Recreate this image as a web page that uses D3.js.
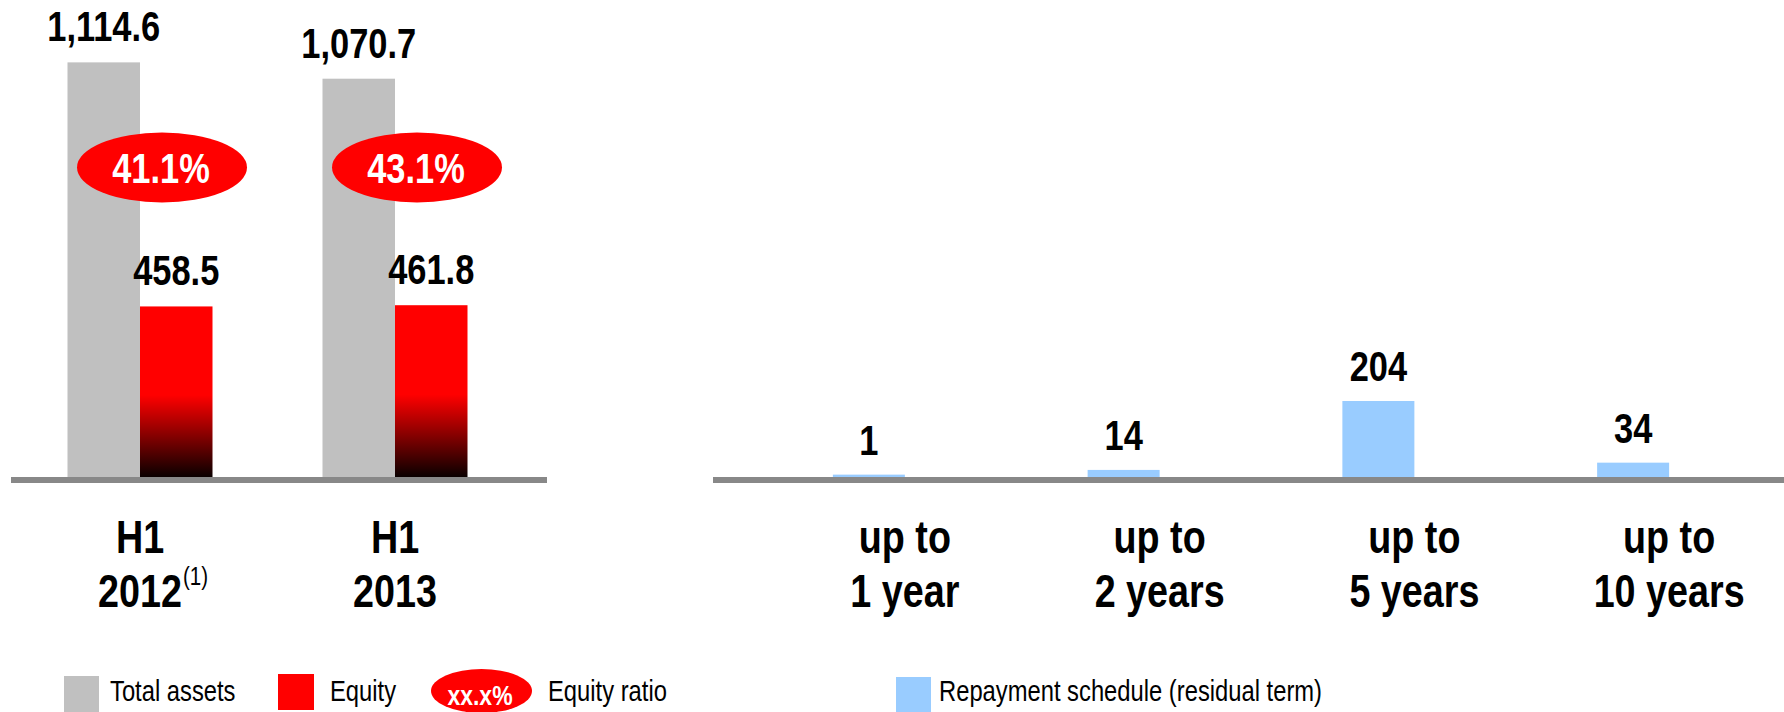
<!DOCTYPE html>
<html>
<head>
<meta charset="utf-8">
<script src="https://cdn.jsdelivr.net/npm/d3@7"></script>
<style>
  html, body { margin: 0; padding: 0; background: #ffffff; }
  svg { display: block; }
  text { font-family: "Liberation Sans", Arial, sans-serif; }
</style>
</head>
<body>
<svg id="chart" width="1784" height="712"></svg>
<script>
// ---- Balance sheet (EUR m) ----
const periods = ["H1 2012", "H1 2013"];
const periodLine1 = ["H1", "H1"];
const periodLine2 = ["2012", "2013"];
const periodNotes = ["(1)", ""];
const totalAssets = [1114.6, 1070.7];
const equity = [458.5, 461.8];
const equityRatio = ["41.1%", "43.1%"];
const valueLabelsAssets = ["1,114.6", "1,070.7"];
const valueLabelsEquity = ["458.5", "461.8"];

// ---- Repayment schedule (residual term) ----
const terms = ["up to 1 year", "up to 2 years", "up to 5 years", "up to 10 years"];
const termLine1 = ["up to", "up to", "up to", "up to"];
const termLine2 = ["1 year", "2 years", "5 years", "10 years"];
const repayments = [1, 14, 204, 34];

// ---- Legend ----
const legendLeft = ["Total assets", "Equity", "Equity ratio"];
const legendRight = ["Repayment schedule (residual term)"];
const ratioPlaceholder = "xx.x%";

const GRAY = "#c0c0c0", RED = "#ff0000", BLUE = "#99ccff", AXIS = "#888888";
const baseY = 477;
const NARROW = 0.82; // condensed face: horizontal squeeze of the sans

// place a text element at (x, y) with the condensed look
function at(sel, fx, fy) {
  return sel.attr("x", 0).attr("y", 0)
    .attr("transform", (d, i) => {
      const x = typeof fx === "function" ? fx(d, i) : fx;
      const y = typeof fy === "function" ? fy(d, i) : fy;
      return `translate(${x},${y}) scale(${NARROW},1)`;
    });
}

const svg = d3.select("#chart");
const defs = svg.append("defs");
const grad = defs.append("linearGradient")
  .attr("id", "equityFill").attr("x1", 0).attr("y1", 0).attr("x2", 0).attr("y2", 1);
grad.append("stop").attr("offset", "0%").attr("stop-color", RED);
grad.append("stop").attr("offset", "52%").attr("stop-color", RED);
grad.append("stop").attr("offset", "100%").attr("stop-color", "#0a0000");

// ================= Left panel =================
const xL = d3.scaleBand().domain(periods).range([12.5, 522.5]).paddingInner(0).paddingOuter(0);
const xSeries = d3.scaleBand().domain(["assets", "equity"]).range([-72.5, 72.5]);
const yL = d3.scaleLinear().domain([0, 1200]).range([baseY, baseY - 446.4]);
const cL = p => xL(p) + xL.bandwidth() / 2;

const left = svg.append("g");

left.selectAll("rect.assets").data(periods).join("rect")
  .attr("class", "assets")
  .attr("x", p => cL(p) + xSeries("assets"))
  .attr("width", xSeries.bandwidth())
  .attr("y", (p, i) => yL(totalAssets[i]))
  .attr("height", (p, i) => baseY - yL(totalAssets[i]))
  .attr("fill", GRAY);

left.selectAll("rect.equity").data(periods).join("rect")
  .attr("class", "equity")
  .attr("x", p => cL(p) + xSeries("equity"))
  .attr("width", xSeries.bandwidth())
  .attr("y", (p, i) => yL(equity[i]))
  .attr("height", (p, i) => baseY - yL(equity[i]))
  .attr("fill", "url(#equityFill)");

// value labels
at(left.selectAll("text.vAssets").data(periods).join("text"),
   p => cL(p) + xSeries("assets") + xSeries.bandwidth() / 2,
   (p, i) => yL(totalAssets[i]) - 21)
  .attr("text-anchor", "middle").attr("font-weight", "bold").attr("font-size", 42)
  .text((p, i) => valueLabelsAssets[i]);

at(left.selectAll("text.vEquity").data(periods).join("text"),
   p => cL(p) + xSeries("equity") + xSeries.bandwidth() / 2,
   (p, i) => yL(equity[i]) - 21)
  .attr("text-anchor", "middle").attr("font-weight", "bold").attr("font-size", 42)
  .text((p, i) => valueLabelsEquity[i]);

// equity ratio badges
const badge = left.selectAll("g.badge").data(periods).join("g")
  .attr("transform", p => `translate(${cL(p) + 22},167.5)`);
badge.append("ellipse").attr("rx", 85).attr("ry", 35).attr("fill", RED);
at(badge.append("text"), -1, 15)
  .attr("text-anchor", "middle").attr("font-weight", "bold").attr("font-size", 42)
  .attr("fill", "#ffffff")
  .text((p, i) => equityRatio[i]);

// baseline
left.append("rect").attr("x", 11).attr("y", baseY).attr("width", 536).attr("height", 6).attr("fill", AXIS);

// category labels
at(left.selectAll("text.cat1").data(periods).join("text"), cL, 553)
  .attr("text-anchor", "middle").attr("font-weight", "bold").attr("font-size", 46)
  .text((p, i) => periodLine1[i]);
const cat2 = at(left.selectAll("text.cat2").data(periods).join("text"), cL, 607)
  .attr("class", "cat2")
  .attr("text-anchor", "middle").attr("font-weight", "bold").attr("font-size", 46)
  .text((p, i) => periodLine2[i]);
cat2.each(function (p, i) {
  if (!periodNotes[i]) return;
  const w = this.getComputedTextLength() * NARROW;
  at(left.append("text"), cL(p) + w / 2 + 1, 585)
    .attr("font-size", 25)
    .text(periodNotes[i]);
});

// ================= Right panel =================
const xR = d3.scaleBand().domain(terms).range([741.5, 1760.5]).paddingInner(0).paddingOuter(0);
const yR = d3.scaleLinear().domain([0, 204]).range([baseY, baseY - 74]);
const cR = t => xR(t) + xR.bandwidth() / 2;

const right = svg.append("g");

right.selectAll("rect.rep").data(terms).join("rect")
  .attr("x", t => cR(t) - 35)
  .attr("width", 70)
  .attr("y", (t, i) => yR(repayments[i]) - 1)
  .attr("height", (t, i) => baseY - yR(repayments[i]) + 1)
  .attr("fill", BLUE).attr("stroke", BLUE).attr("stroke-width", 2);

at(right.selectAll("text.vRep").data(terms).join("text"),
   cR, (t, i) => yR(repayments[i]) - 22)
  .attr("text-anchor", "middle").attr("font-weight", "bold").attr("font-size", 42)
  .text((t, i) => d3.format(",")(repayments[i]));

right.append("rect").attr("x", 713).attr("y", baseY).attr("width", 1071).attr("height", 6).attr("fill", AXIS);

at(right.selectAll("text.t1").data(terms).join("text"), t => cR(t) + 36, 553)
  .attr("text-anchor", "middle").attr("font-weight", "bold").attr("font-size", 46)
  .text((t, i) => termLine1[i]);
at(right.selectAll("text.t2").data(terms).join("text"), t => cR(t) + 36, 607)
  .attr("text-anchor", "middle").attr("font-weight", "bold").attr("font-size", 46)
  .text((t, i) => termLine2[i]);

// ================= Legend =================
const lg = svg.append("g");
lg.append("rect").attr("x", 64).attr("y", 676).attr("width", 35).attr("height", 36).attr("fill", GRAY);
at(lg.append("text"), 110, 701).attr("font-size", 29).text(legendLeft[0]);
lg.append("rect").attr("x", 278).attr("y", 674).attr("width", 36).attr("height", 36).attr("fill", RED);
at(lg.append("text"), 330, 701).attr("font-size", 29).text(legendLeft[1]);
lg.append("ellipse").attr("cx", 481.5).attr("cy", 691).attr("rx", 50.5).attr("ry", 22).attr("fill", RED);
at(lg.append("text"), 480, 705).attr("text-anchor", "middle")
  .attr("font-weight", "bold").attr("font-size", 28).attr("fill", "#ffffff").text(ratioPlaceholder);
at(lg.append("text"), 548, 701).attr("font-size", 29).text(legendLeft[2]);
lg.append("rect").attr("x", 896).attr("y", 677).attr("width", 35).attr("height", 35).attr("fill", BLUE);
at(lg.append("text"), 939, 701).attr("font-size", 29).text(legendRight[0]);
</script>
</body>
</html>
